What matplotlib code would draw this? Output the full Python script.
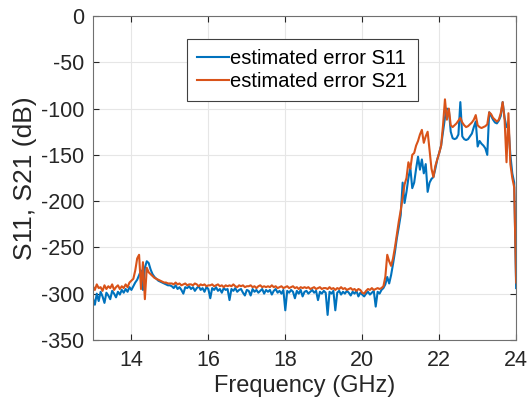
import numpy as np
import matplotlib
matplotlib.use('Agg')
import matplotlib.pyplot as plt

plt.rcParams['font.family'] = ['Liberation Sans', 'DejaVu Sans']
plt.rcParams['axes.unicode_minus'] = False

# frequency grid (GHz), 0.05 GHz spacing from 13 to 24
freq = np.round(np.arange(13.0, 24.001, 0.05), 2)

# estimated error S11 (dB)
s11 = [
    # 13.00 - 14.00
    -305, -312, -300, -308, -298, -303, -310, -299, -302, -306,
    -297, -300, -304, -298, -301, -296, -299, -295, -298, -293, -296,
    # 14.05 - 15.00
    -292, -288, -285, -280, -275, -296, -272, -265, -267, -274,
    -279, -282, -284, -286, -287, -288, -289, -290, -291, -291,
    # 15.05 - 20.00
    -292, -294, -291, -295, -293, -296, -300, -293, -294, -292,
    -295, -293, -297, -294, -292, -296, -294, -298, -293, -295,
    -305, -294, -296, -293, -297, -295, -299, -294, -296, -295,
    -307, -295, -297, -294, -298, -296, -295, -299, -302, -296,
    -297, -302, -295, -298, -296, -299, -297, -295, -300, -296,
    -298, -296, -301, -297, -295, -299, -297, -300, -296, -318,
    -297, -299, -296, -298, -305, -297, -300, -296, -303, -298,
    -297, -300, -298, -296, -299, -297, -307, -298, -300, -297,
    -299, -323, -298, -300, -297, -318, -299, -297, -301, -298,
    -300, -297, -299, -302, -298, -300, -297, -303, -299, -301,
    # 20.05 - 20.45
    -303, -300, -298, -301, -299, -297, -314, -298, -300,
    # 20.50 - 24.00
    -296, -294, -290, -282, -289, -280, -268, -255, -240, -228,
    -215, -180, -202, -190, -175, -164, -186, -180, -165, -152,
    -166, -155, -170, -160, -190, -180, -176, -174, -165, -155,
    -148, -140, -125, -110, -100, -101, -125, -132, -133, -132,
    -128, -93, -130, -133, -134, -133, -130, -127, -120, -114,
    -141, -135, -138, -140, -143, -150, -104, -108, -112, -115,
    -116, -113, -108, -93, -110, -120, -118, -150, -170, -180,
    -294,
]

# estimated error S21 (dB)
s21 = [
    # 13.00 - 14.00
    -292, -296, -290, -294, -293, -297, -291, -295, -292, -294,
    -290, -296, -293, -291, -295, -292, -294, -290, -293, -288, -286,
    # 14.05 - 15.00
    -284, -275, -262, -258, -295, -266, -306, -272, -277, -279,
    -281, -283, -284, -285, -286, -287, -288, -288, -289, -289,
    # 15.05 - 20.00
    -289, -290, -288, -290, -289, -291, -290, -289, -291, -290,
    -290, -291, -289, -290, -292, -290, -291, -290, -292, -291,
    -291, -290, -292, -291, -290, -292, -291, -293, -291, -292,
    -291, -292, -290, -292, -293, -291, -292, -291, -293, -292,
    -292, -291, -293, -292, -294, -292, -291, -293, -292, -293,
    -292, -293, -291, -293, -292, -294, -293, -292, -294, -293,
    -292, -294, -293, -292, -294, -293, -295, -293, -294, -293,
    -294, -293, -295, -294, -293, -295, -294, -293, -295, -294,
    -294, -295, -293, -295, -294, -296, -294, -295, -293, -295,
    -294, -296, -295, -294, -296, -295, -297, -295, -296, -299,
    # 20.05 - 20.45
    -300, -297, -295, -296, -294, -296, -295, -294, -295,
    # 20.50 - 24.00
    -294, -292, -282, -258, -265, -270, -262, -250, -236, -222,
    -210, -196, -182, -175, -158, -165, -150, -148, -140, -135,
    -128, -123, -137, -130, -125, -145, -165, -174, -162, -155,
    -148, -140, -118, -90, -112, -100, -118, -120, -118, -116,
    -113, -110, -115, -118, -120, -119, -117, -115, -112, -107,
    -118, -120, -121, -120, -119, -117, -104, -106, -110, -112,
    -114, -112, -105, -93, -112, -158, -105, -160, -175, -185,
    -288,
]

x_ticks = [14, 16, 18, 20, 22, 24]
y_ticks = [0, -50, -100, -150, -200, -250, -300, -350]

fig = plt.figure(figsize=(5.31, 4.12), dpi=100)
ax = fig.add_axes([0.175, 0.175, 0.797, 0.786])

ax.plot(freq, s11, color='#0072BD', lw=1.5, label='estimated error S11')
ax.plot(freq, s21, color='#D95319', lw=1.5, label='estimated error S21')

ax.set_xlim(13, 24)
ax.set_ylim(-350, 0)
ax.set_xticks(x_ticks)
ax.set_yticks(y_ticks)
ax.grid(True, color='#e6e6e6', lw=0.8)
ax.set_axisbelow(True)
ax.tick_params(direction='in', top=True, right=True, length=4,
               labelsize=15.5, colors='#262626')
ax.tick_params(axis='x', pad=7)
ax.tick_params(axis='y', pad=6)
for sp in ax.spines.values():
    sp.set_color('#707070')
    sp.set_linewidth(0.8)

ax.set_xlabel('Frequency (GHz)', fontsize=17, color='#262626', labelpad=3)
ax.set_ylabel('S11, S21 (dB)', fontsize=19, color='#262626', labelpad=3)

leg = ax.legend(loc='upper center', bbox_to_anchor=(0.495, 0.929),
                fontsize=14.5, frameon=True, fancybox=False, framealpha=1,
                edgecolor='#404040', handlelength=1.6, handletextpad=0.05,
                borderpad=0.5, labelspacing=0.2, borderaxespad=0)
leg.get_frame().set_linewidth(0.8)

fig.savefig('out.png', dpi=100)
